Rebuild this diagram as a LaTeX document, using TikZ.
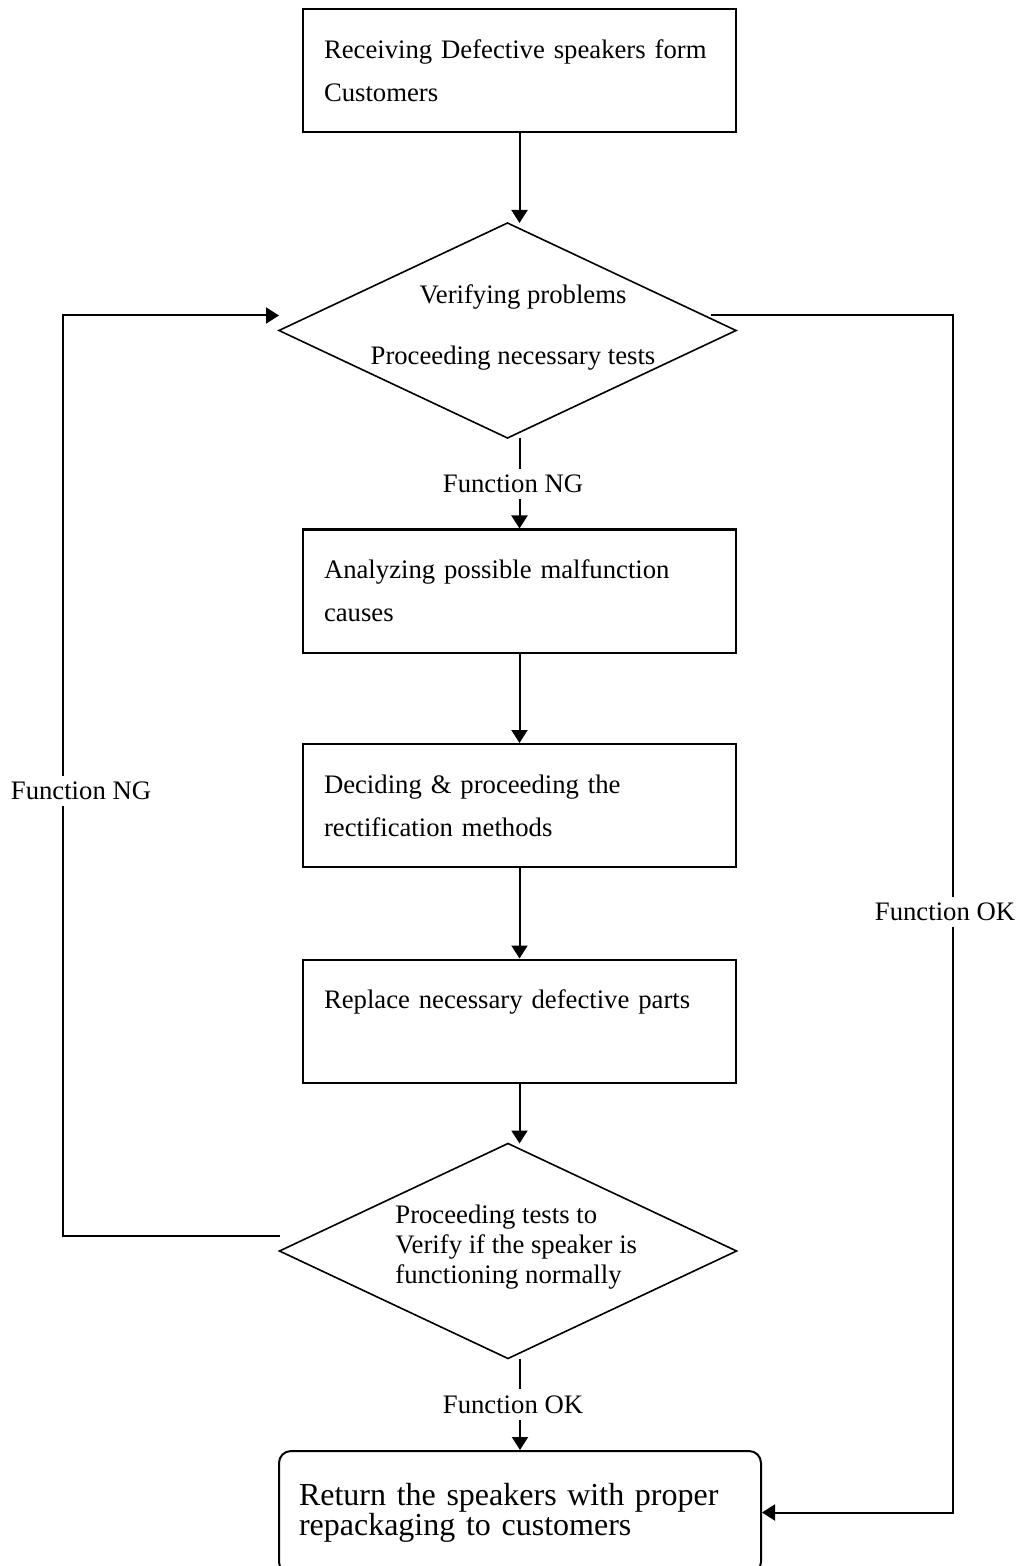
\documentclass[tikz,border=0pt]{standalone}
\usepackage{fontspec}
\setmainfont{Liberation Serif}
\usetikzlibrary{shapes.geometric,arrows.meta,calc}
\begin{document}
\begin{tikzpicture}[x=0.5pt,y=-0.5pt,
  txt/.style={inner sep=0pt,font=\fontsize{13.35}{21.5}\selectfont},
  procbox/.style={draw, line width=1pt, minimum width=216.5pt, minimum height=61.5pt,
    text width=195.5pt, inner xsep=10.5pt, inner ysep=0pt, align=left,
    font=\fontsize{13.35}{21.5}\selectfont},
  decision/.style={draw, diamond, line width=0.8pt, inner sep=0pt, outer sep=0pt,
    minimum width=228.5pt, minimum height=107.5pt},
  lbl/.style={fill=white, inner xsep=1pt, inner ysep=0pt, minimum height=15pt,
    font=\fontsize{13.35}{16}\selectfont},
  arr/.style={line width=1pt, -{Triangle[length=6.5pt,width=8pt]}},
  conn/.style={line width=1pt}
]
\useasboundingbox (0,0) rectangle (1021,1566);

% process boxes
\node[procbox] (b1) at (519.5,70.5) {Receiving Defective speakers form\\Customers};
\node[procbox] (b2) at (519.5,591) {Analyzing possible malfunction\\causes};
\node[procbox] (b3) at (519.5,805.5) {Deciding \& proceeding the\\rectification methods};
\node[procbox] (b4) at (519.5,1021) {Replace necessary defective parts\\\mbox{}};

% decisions
\node[decision] (d1) at (507.5,330.5) {};
\node[txt] (t1a) at (523,297) {Verifying problems};
\node[txt] (t1b) at (513,358) {Proceeding necessary tests};

\node[decision] (d2) at (508,1251) {};
\node[txt, align=left, anchor=west, font=\fontsize{13.35}{15}\selectfont] (t2) at (395,1247)
  {Proceeding tests to\\Verify if the speaker is\\functioning normally};

% final box
\node[draw, rounded corners=6pt, line width=1pt, minimum width=241pt, minimum height=61.5pt,
  text width=221pt, inner xsep=10pt, inner ysep=0pt, align=left,
  font=\fontsize{16}{15}\selectfont] (b5) at (520,1512.5)
  {Return the speakers with proper\\repackaging to customers};

% centre labels
\node[lbl] (ng1) at (513,484) {Function NG};
\node[lbl] (ok1) at (513,1404.5) {Function OK};

% main flow
\draw[arr] (b1.south) -- (b1.south |- d1.north);
\draw[conn] (d1.south -| b2.north) -- (ng1.north -| b2.north);
\draw[arr] (ng1.south -| b2.north) -- (b2.north);
\draw[arr] (b2) -- (b3);
\draw[arr] (b3) -- (b4);
\draw[arr] (b4.south) -- (b4.south |- d2.north);
\draw[conn] (d2.south -| b5.north) -- (ok1.north -| b5.north);
\draw[arr] (ok1.south -| b5.north) -- (b5.north);

% loops
\draw[arr] ($(d2.west)+(0,-15)$) -- ++(-217,0) |- ($(d1.west)+(0,-15)$);
\draw[arr] ($(d1.east)+(-25,-15)$) -- ++(242,0) |- (b5.east);

% side labels (drawn over the loop lines)
\node[lbl] (ng2) at (81,791) {Function NG};
\node[lbl] (ok2) at (945,912) {Function OK};
\end{tikzpicture}
\end{document}
